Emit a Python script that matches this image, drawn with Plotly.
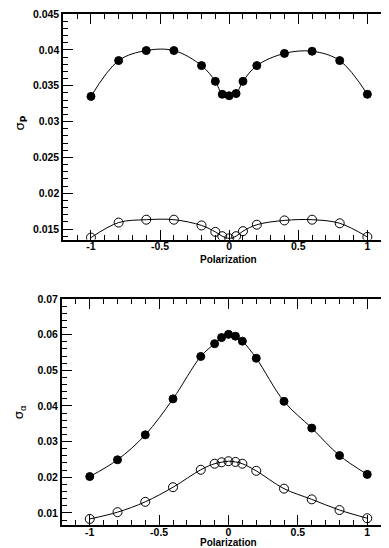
import plotly.graph_objects as go
import numpy as np

# ---- data ----
pol = [-1, -0.8, -0.6, -0.4, -0.2, -0.1, -0.05, 0, 0.05, 0.1, 0.2, 0.4, 0.6, 0.8, 1]

sigP_filled = [0.0335, 0.0385, 0.0399, 0.0399, 0.0378, 0.0356, 0.0338, 0.0336,
               0.0339, 0.0356, 0.0378, 0.0395, 0.0398, 0.0385, 0.0338]
sigP_open = [0.0138, 0.0159, 0.0163, 0.0163, 0.0155, 0.0146, 0.0140, 0.0137,
             0.0140, 0.0147, 0.0156, 0.0162, 0.0163, 0.0158, 0.0139]

sigA_filled = [0.0202, 0.0249, 0.0319, 0.0420, 0.0539, 0.0575, 0.0592, 0.0601,
               0.0596, 0.0582, 0.0534, 0.0413, 0.0338, 0.0261, 0.0208]
sigA_open = [0.0083, 0.0102, 0.0131, 0.0172, 0.0221, 0.0238, 0.0242, 0.0245,
             0.0243, 0.0238, 0.0218, 0.0168, 0.0138, 0.0108, 0.0085]

x_ticks = [-1, -0.5, 0, 0.5, 1]
x_ticklabels = ["-1", "-0.5", "0", "0.5", "1"]
yP_ticks = [0.015, 0.02, 0.025, 0.03, 0.035, 0.04, 0.045]
yA_ticks = [0.01, 0.02, 0.03, 0.04, 0.05, 0.06, 0.07]

x_title = "Polarization"

FONT = "Liberation Sans"
tickfont = dict(family=FONT, size=10.5, color="black", weight="bold")

fig = go.Figure()

def add_series(x, y, xa, ya, filled):
    fig.add_trace(go.Scatter(
        x=x, y=y, xaxis=xa, yaxis=ya, mode="lines+markers",
        line=dict(color="black", width=1, shape="spline"),
        marker=dict(size=8 if filled else 9,
                    color="black",
                    symbol="circle" if filled else "circle-open",
                    line=dict(color="black", width=1)),
        showlegend=False, hoverinfo="skip"))

add_series(pol, sigP_filled, "x", "y", True)
add_series(pol, sigP_open, "x", "y", False)
add_series(pol, sigA_filled, "x2", "y2", True)
add_series(pol, sigA_open, "x2", "y2", False)

XR = [-1.2, 1.2]
rngP = [0.01353, 0.045]
rngA = [0.0066, 0.07]

def minor_vals(lo, hi, step):
    n0 = int(np.floor(lo / step)) - 1
    n1 = int(np.ceil(hi / step)) + 1
    return [round(k * step, 6) for k in range(n0, n1 + 1)]

def xaxis(domain, anchor):
    return dict(domain=domain, anchor=anchor, range=XR, tickmode="array",
                tickvals=x_ticks, ticktext=x_ticklabels, ticks="inside",
                ticklen=10, tickwidth=1, tickcolor="black", showline=True,
                linecolor="black", linewidth=2, mirror="ticks", showgrid=False,
                zeroline=False, tickfont=tickfont, ticklabeloverflow="allow",
                minor=dict(tickmode="array", tickvals=minor_vals(*XR, 0.1),
                           ticks="inside", ticklen=5, tickcolor="black",
                           tickwidth=1, showgrid=False),
                ticklabelstandoff=-4)

def yaxis(domain, anchor, rng, ticks, minor_dt):
    return dict(domain=domain, anchor=anchor, range=rng, tickmode="array",
                tickvals=ticks, ticktext=[f"{t:g}" for t in ticks],
                ticks="inside", ticklen=10, tickwidth=1, tickcolor="black",
                showline=True, linecolor="black", linewidth=2, mirror="ticks",
                showgrid=False, zeroline=False, tickfont=tickfont,
                ticklabeloverflow="allow",
                minor=dict(tickmode="array", tickvals=minor_vals(*rng, minor_dt),
                           ticks="inside", ticklen=5, tickcolor="black",
                           tickwidth=1, showgrid=False),
                ticklabelstandoff=0)

dom_top = [0.5586, 1.0]
dom_bot = [0.0, 0.4421]

# page body adds an 8px offset; margins below compensate
W, H = 389, 548
L, R, T, B = 54, 0, 2, 31
OFF = 8

fig.update_layout(
    width=W, height=H,
    margin=dict(l=L, r=R, t=T, b=B),
    paper_bgcolor="white", plot_bgcolor="white",
    xaxis=xaxis([0.004, 1.0], "y"),
    yaxis=yaxis(dom_top, "x", rngP, yP_ticks, 0.001),
    xaxis2=xaxis([0.0, 1.0], "y2"),
    yaxis2=yaxis(dom_bot, "x2", rngA, yA_ticks, 0.002),
)

pw, ph = W - L - R, H - T - B

def px(x):
    return (x - OFF - L) / pw

def py(y):
    return (H - B - (y - OFF)) / ph

for xc, yc in [(230, 257), (229, 543)]:
    fig.add_annotation(text=x_title, x=px(xc), y=py(yc), xref="paper", yref="paper",
                       xanchor="center", yanchor="middle", showarrow=False,
                       font=dict(family=FONT, size=10, color="black", weight="bold"))
for txt, xc, yc in [("σ<sub><b>P</b></sub>", 20, 120), ("σ<sub>α</sub>", 20, 411)]:
    fig.add_annotation(text=txt, x=px(xc), y=py(yc), xref="paper", yref="paper",
                       xanchor="center", yanchor="middle", showarrow=False,
                       textangle=-90,
                       font=dict(family="DejaVu Sans", size=13, color="black"))

fig.write_html("out.html")
